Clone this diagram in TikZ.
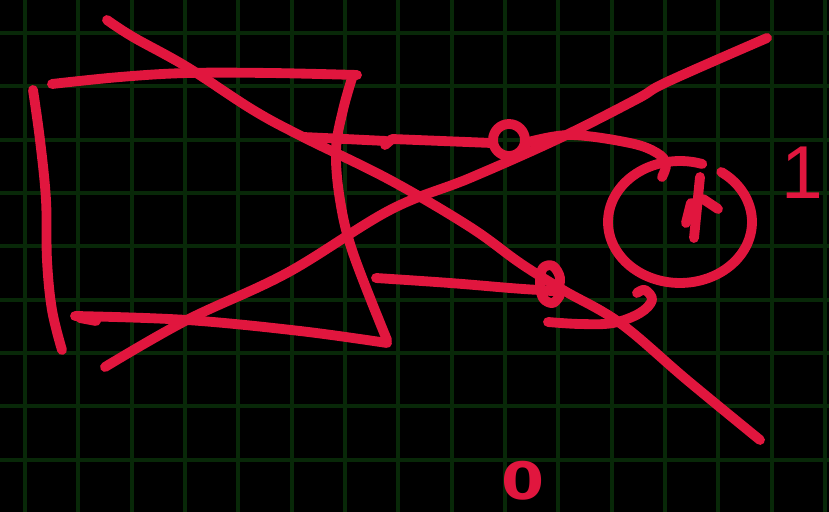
\documentclass[tikz,border=0pt]{standalone}
\usepackage{fontspec}
\newfontfamily\djv{DejaVu Sans}
\newfontfamily\lib{Liberation Sans}
\definecolor{gridgreen}{RGB}{8,40,8}
\definecolor{ink}{RGB}{225,22,62}
\tikzset{
  gridline/.style={draw=gridgreen, line width=3.2pt},
  pen/.style={draw=ink, line width=8.4pt, line cap=round, line join=round},
  handtext/.style={text=ink, inner sep=0pt, anchor=center}
}
\begin{document}
\begin{tikzpicture}[x=0.03cm, y=-0.03cm]
\fill[black] (0,0) rectangle (829,512);
\useasboundingbox (0,0) rectangle (829,512);
% grid
\foreach \k in {0,...,15} { \draw[gridline] ({25+53.33*\k},0) -- ({25+53.33*\k},512); }
\foreach \k in {0,...,8} { \draw[gridline] (0,{33+53.33*\k}) -- (829,{33+53.33*\k}); }
% box
\draw[pen] plot[smooth, tension=0.6] coordinates {(33,90) (40,140) (46,200) (47,260) (52,310) (62,350)};
\draw[pen] plot[smooth, tension=0.6] coordinates {(52,84) (120,77) (187,73) (270,73) (357,75)};
\draw[pen] plot[smooth, tension=0.6] coordinates {(353,75) (343,110) (336,150) (340,200) (353,253) (387,340)};
\draw[pen] plot[smooth, tension=0.6] coordinates {(75,316) (187,320) (300,331) (387,343)};
\draw[pen] (80,318) -- (96,321);
% long diagonals
\draw[pen] plot[smooth, tension=0.6] coordinates {(107,20) (133,37) (187,67) (253,110) (303,137) (390,180) (470,227) (520,263) (563,290) (620,323) (687,380) (760,440)};
\draw[pen] plot[smooth, tension=0.6] coordinates {(105,367) (187,320) (287,273) (390,210) (470,178) (560,138) (637,99) (667,82) (767,38)};
% middle stroke with small loop
\draw[pen] (303,137) -- (345,139) -- (386,141);
\draw[pen] (385,145) -- (392,139) -- (492,143);
\draw[pen] (509,140) circle[radius=16];
\draw[pen] plot[smooth, tension=0.6] coordinates {(525,143) (570,135) (630,143) (657,153) (666,164) (662,177)};
% big circle
\draw[pen] plot[smooth, domain=-55:288, samples=60, variable=\t] ({680+72*cos(\t)},{222+61*sin(\t)});
\draw[pen] (700,177) -- (694,238);
\draw[pen] (691,203) -- (686,223);
\draw[pen] (703,199) -- (718,209);
% lower stroke with knot
\draw[pen] plot[smooth, tension=0.6] coordinates {(376,278) (450,283) (510,288) (540,290) (556,290) (560,278) (553,266) (543,268) (540,282) (543,298) (553,303) (560,295)};
\draw[pen] plot[smooth, tension=0.6] coordinates {(548,322) (580,324) (613,323) (640,313) (652,300) (645,290) (637,293)};
% labels
\node[handtext, font=\djv\bfseries\fontsize{44}{44}\selectfont] (zero) at (523,481) {\scalebox{1.2}[1]{0}};
\node[handtext, font=\lib\fontsize{64}{64}\selectfont] (one) at (802,173) {1};
\end{tikzpicture}
\end{document}
